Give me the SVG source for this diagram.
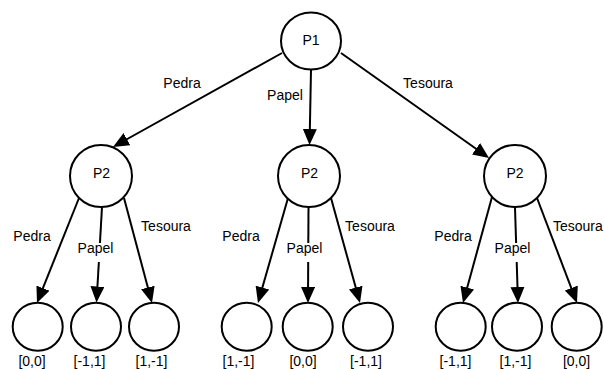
<svg xmlns="http://www.w3.org/2000/svg" width="604" height="369" viewBox="0 0 604 369">
<defs>
<marker id="arr" markerUnits="userSpaceOnUse" markerWidth="17" markerHeight="14" refX="13" refY="7" orient="auto">
<path d="M0,0 L16,7 L0,14 Z" fill="#000"/>
</marker>
<style>
.n{fill:#fff;stroke:#000;stroke-width:2}
.e{fill:none;stroke:#000;stroke-width:2;marker-end:url(#arr)}
text{font-family:"Liberation Sans",Arial,Helvetica,sans-serif;font-size:14px;fill:#000}
.c{text-anchor:middle}
.bg{fill:#fff}
</style>
</defs>
<rect width="604" height="369" fill="#fff"/>
<g id="connectors">
<line class="e" x1="282" y1="53" x2="115.6" y2="145.5"/>
<line class="e" x1="311" y1="70" x2="309.6" y2="142"/>
<line class="e" x1="341" y1="53" x2="486.6" y2="156.3"/>
<line class="e" x1="79" y1="198" x2="38.1" y2="300.2"/>
<line class="e" x1="102" y1="207" x2="96.7" y2="299.5"/>
<line class="e" x1="124" y1="198" x2="151.2" y2="300.1"/>
<line class="e" x1="288" y1="198" x2="258.8" y2="300.1"/>
<line class="e" x1="308.5" y1="207" x2="308" y2="300"/>
<line class="e" x1="331" y1="198" x2="359.2" y2="300.1"/>
<line class="e" x1="492" y1="197" x2="463.8" y2="300.1"/>
<line class="e" x1="515" y1="207" x2="517.9" y2="300"/>
<line class="e" x1="537" y1="198" x2="575.9" y2="300.2"/>
</g>
<g id="edge-labels">
<text class="c" x="182" y="88">Pedra</text>
<text class="c" x="285" y="100">Papel</text>
<text class="c" x="428" y="88">Tesoura</text>
<text class="c" x="32" y="241">Pedra</text>
<rect class="bg" x="76" y="243" width="39" height="19"/>
<text class="c" x="95.5" y="253">Papel</text>
<text class="c" x="166" y="230.5">Tesoura</text>
<text class="c" x="241" y="241">Pedra</text>
<rect class="bg" x="285" y="243" width="39" height="19"/>
<text class="c" x="304.5" y="253">Papel</text>
<text class="c" x="370" y="230.5">Tesoura</text>
<text class="c" x="453" y="241">Pedra</text>
<rect class="bg" x="493" y="243" width="39" height="19"/>
<text class="c" x="512.5" y="253">Papel</text>
<text x="553" y="230.5">Tesoura</text>
</g>
<g id="p1"><ellipse class="n" cx="311" cy="41" rx="30" ry="28.5"/><text class="c" x="311" y="44.5">P1</text></g>
<g id="p2-pedra"><circle class="n" cx="101" cy="176" r="31"/><text class="c" x="101.5" y="178">P2</text></g>
<g id="p2-papel"><circle class="n" cx="309" cy="176" r="31"/><text class="c" x="309.5" y="178">P2</text></g>
<g id="p2-tesoura"><circle class="n" cx="515" cy="176" r="31"/><text class="c" x="515" y="178">P2</text></g>
<g id="leaf1"><ellipse class="n" cx="37.7" cy="326.7" rx="25" ry="24"/><text class="c" x="32" y="365.5">[0,0]</text></g>
<g id="leaf2"><ellipse class="n" cx="96" cy="326.7" rx="25" ry="24"/><text class="c" x="89.5" y="365.5">[-1,1]</text></g>
<g id="leaf3"><ellipse class="n" cx="154" cy="326.7" rx="25" ry="24"/><text class="c" x="151.5" y="365.5">[1,-1]</text></g>
<g id="leaf4"><ellipse class="n" cx="246.7" cy="326.7" rx="25" ry="24"/><text class="c" x="238.5" y="365.5">[1,-1]</text></g>
<g id="leaf5"><ellipse class="n" cx="307.7" cy="326.7" rx="25" ry="24"/><text class="c" x="303" y="365.5">[0,0]</text></g>
<g id="leaf6"><ellipse class="n" cx="368" cy="326.7" rx="25" ry="24"/><text class="c" x="366" y="365.5">[-1,1]</text></g>
<g id="leaf7"><ellipse class="n" cx="460.7" cy="326.7" rx="25" ry="24"/><text class="c" x="455.5" y="365.5">[-1,1]</text></g>
<g id="leaf8"><ellipse class="n" cx="517" cy="326.7" rx="25" ry="24"/><text class="c" x="515.5" y="365.5">[1,-1]</text></g>
<g id="leaf9"><ellipse class="n" cx="576.7" cy="326.7" rx="25" ry="24"/><text class="c" x="576.5" y="365.5">[0,0]</text></g>
</svg>
